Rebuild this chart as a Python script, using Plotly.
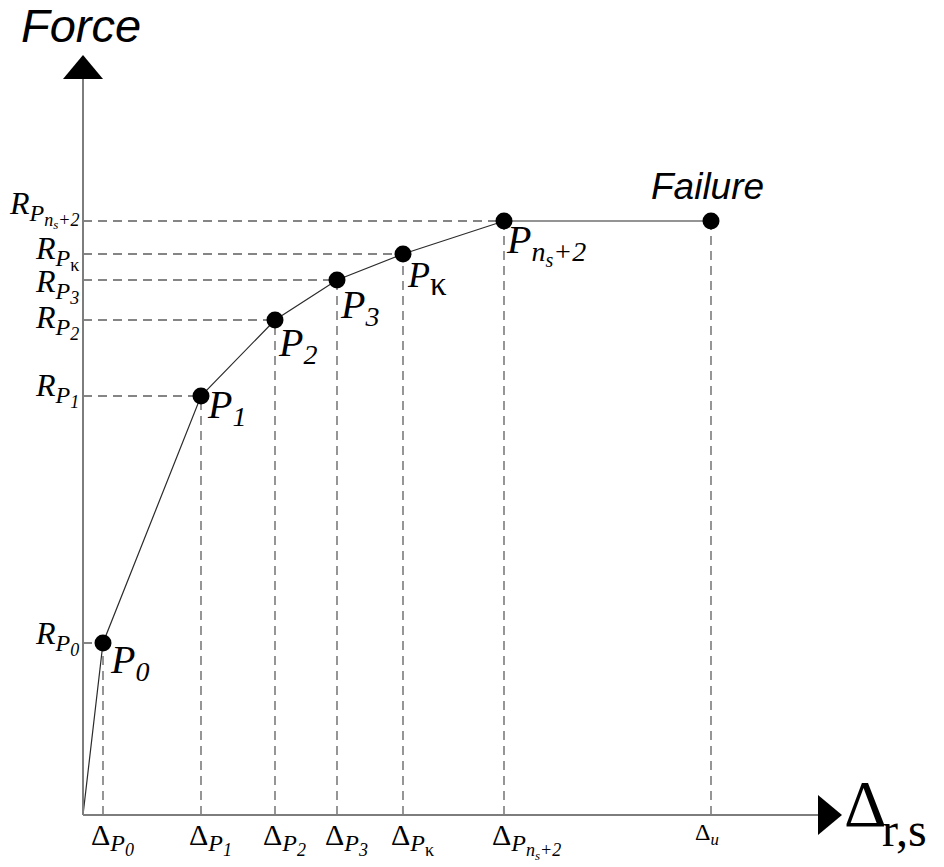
import plotly.graph_objects as go

# Load-displacement points of the model (displacement, force) in arbitrary units
point_keys = ["0", "1", "2", "3", "k", "ns2"]
displacement = [2.0, 11.8, 19.2, 25.4, 32.0, 42.1]
force = [17.2, 41.9, 49.5, 53.5, 56.1, 59.4]
failure_disp = 62.8
failure_force = 59.4

X_MAX = 75.9
Y_MAX = 76.0

SERIF = "Liberation Serif"
SANS = "Liberation Sans"
AXIS_GREY = "#7d7d7d"
DASH_GREY = "#5e5e5e"
DASH = dict(color=DASH_GREY, width=1.3, dash="9px,6px")


def span(txt, px):
    return "<span style='font-size:%dpx'>%s</span>" % (px, txt)


def index_text(key, idx_px, nested_px):
    """Subscripted point index: 0..3, kappa or n_s+2."""
    if key == "k":
        return "<sub>" + span("κ", idx_px) + "</sub>"
    if key == "ns2":
        return ("<sub>" + span("<i>n</i>", idx_px)
                + "<sub>" + span("<i>s</i>", nested_px) + "</sub>"
                + span("<i>+2</i>", idx_px) + "</sub>")
    return "<sub>" + span("<i>%s</i>" % key, idx_px) + "</sub>"


def nested_label(head, key, p_px, idx_px, nested_px):
    """head with subscript P, which itself carries the point index."""
    return head + "<sub>" + span("<i>P</i>" + index_text(key, idx_px, nested_px), p_px) + "</sub>"


# Label placement tweaks (pixels): point labels and force-level labels
p_label_dx = [7, 6, 3, 3, 4, 2]
p_label_dy = [2, -6, 8, 10, 9, 4]
r_label_dy = [0, -1, 7, 11, 4, -8]

fig = go.Figure()

shapes = []
for xd, yf in zip(displacement, force):
    shapes.append(dict(type="line", x0=0, x1=xd, y0=yf, y1=yf, line=DASH, layer="below"))
    shapes.append(dict(type="line", x0=xd, x1=xd, y0=0, y1=yf, line=DASH, layer="below"))
shapes.append(dict(type="line", x0=failure_disp, x1=failure_disp, y0=0, y1=failure_force,
                   line=DASH, layer="below"))

# Axes with arrow heads (paper-referenced so they are not clipped)
shapes.append(dict(type="line", xref="paper", yref="paper", x0=0, x1=0, y0=0, y1=0.97,
                   line=dict(color=AXIS_GREY, width=2)))
shapes.append(dict(type="line", xref="paper", yref="paper", x0=0, x1=0.97, y0=0, y1=0,
                   line=dict(color=AXIS_GREY, width=2)))
shapes.append(dict(type="path", xref="paper", yref="paper",
                   xsizemode="pixel", ysizemode="pixel", xanchor=0, yanchor=1,
                   path="M -20,-24 L 20,-24 L 0,0 Z",
                   fillcolor="black", line=dict(width=0)))
shapes.append(dict(type="path", xref="paper", yref="paper",
                   xsizemode="pixel", ysizemode="pixel", xanchor=1, yanchor=0,
                   path="M -24,-20 L -24,20 L 0,0 Z",
                   fillcolor="black", line=dict(width=0)))

# Force-displacement curve
curve_x = [0] + displacement + [failure_disp]
curve_y = [0] + force + [failure_force]
fig.add_trace(go.Scatter(x=curve_x, y=curve_y, mode="lines", cliponaxis=False,
                         line=dict(color="#2b2b2b", width=1.2), hoverinfo="skip"))
fig.add_trace(go.Scatter(x=displacement + [failure_disp], y=force + [failure_force],
                         mode="markers", cliponaxis=False,
                         marker=dict(color="black", size=17), hoverinfo="skip"))

annotations = []
for i, (key, xd, yf) in enumerate(zip(point_keys, displacement, force)):
    # point labels P_i
    if key == "k":
        p_size = 36
        label = "<i>P</i>" + index_text(key, 33, 20)
    else:
        p_size = 40
        label = "<i>P</i>" + index_text(key, 28, 20)
    annotations.append(dict(x=xd, y=yf, text=label, showarrow=False,
                            xanchor="left", yanchor="top",
                            xshift=p_label_dx[i] - 2, yshift=10 - p_label_dy[i],
                            font=dict(family=SERIF, size=p_size, color="black")))
    # force levels on the vertical axis
    rlabel = nested_label("<i>R</i>", key, 24, 18, 13)
    annotations.append(dict(x=0, y=yf, text=rlabel, showarrow=False,
                            xanchor="right", yanchor="top",
                            xshift=-2, yshift=30 - r_label_dy[i],
                            font=dict(family=SERIF, size=32, color="black")))
    # displacements under the horizontal axis
    dlabel = nested_label("Δ", key, 24, 18, 13)
    annotations.append(dict(x=xd, y=0, text=dlabel, showarrow=False,
                            xanchor="left", yanchor="top", xshift=-14, yshift=-1,
                            font=dict(family=SERIF, size=30, color="black")))

annotations.append(dict(x=failure_disp, y=0, text="Δ<sub><i>u</i></sub>", showarrow=False,
                        xanchor="left", yanchor="top", xshift=-18, yshift=-2,
                        font=dict(family=SERIF, size=24, color="black")))
annotations.append(dict(x=failure_disp, y=failure_force, text="<i>Failure</i>", showarrow=False,
                        xanchor="center", yanchor="bottom", xshift=-4, yshift=12,
                        font=dict(family=SANS, size=37, color="black")))
annotations.append(dict(xref="paper", yref="paper", x=0, y=1, text="<i>Force</i>",
                        showarrow=False, xanchor="left", yanchor="top",
                        xshift=-64, yshift=58,
                        font=dict(family=SANS, size=47, color="black")))
annotations.append(dict(xref="paper", yref="paper", x=1, y=0, text="Δ", showarrow=False,
                        xanchor="left", yanchor="middle", xshift=0, yshift=12,
                        font=dict(family=SERIF, size=66, color="black")))
annotations.append(dict(xref="paper", yref="paper", x=1, y=0, text="r,s", showarrow=False,
                        xanchor="left", yanchor="middle", xshift=38, yshift=-14,
                        font=dict(family=SERIF, size=48, color="black")))

fig.update_layout(
    width=944, height=867,
    margin=dict(l=83, r=102, t=55, b=52),
    paper_bgcolor="white", plot_bgcolor="white",
    showlegend=False,
    shapes=shapes,
    annotations=annotations,
    xaxis=dict(range=[0, X_MAX], visible=False, fixedrange=True),
    yaxis=dict(range=[0, Y_MAX], visible=False, fixedrange=True),
)

fig.write_html("out.html")
